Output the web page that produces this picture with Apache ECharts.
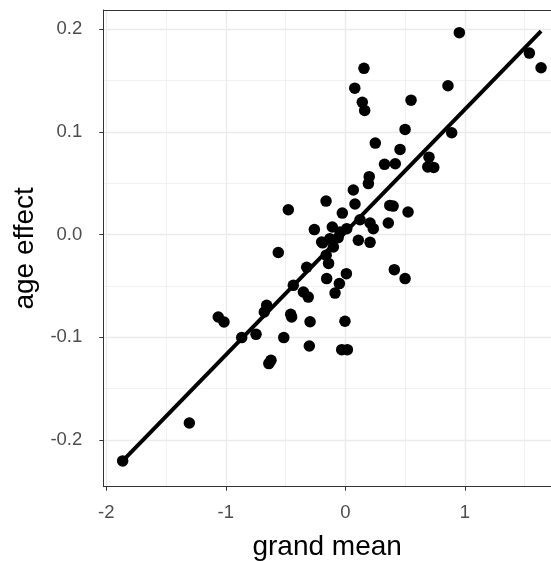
<!DOCTYPE html>
<html>
<head>
<meta charset="utf-8">
<script src="https://cdn.jsdelivr.net/npm/echarts@6/dist/echarts.min.js"></script>
<style>html,body{margin:0;padding:0;background:#fff;overflow:hidden}#c{width:551px;height:561px}</style>
</head>
<body>
<div id="c"></div>
<script>
const xTicks = [-2, -1, 0, 1];
const yTicks = [-0.2, -0.1, 0, 0.1, 0.2];
const xTitle = 'grand mean';
const yTitle = 'age effect';
const grandMean = [0.954, 1.540, 1.638, 0.156, 0.079, 0.142, 0.162, 0.859, 0.550, 0.500,
  0.890, 0.251, 0.458, 0.328, 0.418, 0.700, 0.690, 0.740, 0.200, 0.193,
  0.067, -0.161, 0.081, -0.025, 0.372, 0.400, 0.525, -0.109, 0.123, 0.207,
  0.234, 0.360, 0.109, 0.207, -0.198, -0.259, -0.477, -0.561, 0.012, -0.044,
  -0.323, -0.156, 0.009, -0.050, -0.086, -0.435, -0.351, -0.310, -0.457, -0.449,
  -0.295, -0.003, -0.301, -0.030, 0.017, -0.658, -0.678, -1.063, -1.015, -0.867,
  -0.747, -0.515, -0.622, -0.640, -1.305, -1.863, 0.410, 0.500, -0.190, -0.130,
  -0.100, -0.060, -0.160, -0.140];
const ageEffect = [0.1967, 0.1768, 0.1626, 0.162, 0.1427, 0.129, 0.121, 0.145, 0.131, 0.1025,
  0.0993, 0.0892, 0.083, 0.0685, 0.069, 0.0755, 0.066, 0.0655, 0.0565, 0.0497,
  0.0435, 0.0327, 0.0298, 0.021, 0.0285, 0.0278, 0.022, 0.0074, 0.0145, 0.0113,
  0.0058, 0.0113, -0.0055, -0.0075, -0.0072, 0.0049, 0.0243, -0.0174, 0.0058, 0.0025,
  -0.0318, -0.0428, -0.038, -0.0477, -0.0569, -0.0494, -0.0559, -0.0608, -0.0776, -0.0802,
  -0.0848, -0.0844, -0.1085, -0.112, -0.112, -0.0688, -0.0754, -0.0802, -0.0851, -0.1003,
  -0.0971, -0.1003, -0.1224, -0.1256, -0.1834, -0.2204, -0.0341, -0.0428, -0.008, -0.004,
  -0.012, -0.003, -0.020, -0.028];
const fitX = [-1.863, 1.638];
const fitY = [-0.2204, 0.1983];

const FONT = 'Liberation Sans';
const points = grandMean.map((x, i) => [x, ageEffect[i]]);
const fitLine = fitX.map((x, i) => [x, fitY[i]]);
const X_MIN = -2.025, X_MAX = 1.721, Y_MIN = -0.2455, Y_MAX = 0.2188;
const border = {show: true, onZero: false, lineStyle: {color: '#333333', width: 1}};

const chart = echarts.init(document.getElementById('c'), null, {renderer: 'canvas'});
chart.setOption({
  animation: false,
  backgroundColor: '#ffffff',
  grid: {left: 103.3, top: 10, width: 447.7, height: 476.7, show: false,
    containLabel: false, outerBoundsMode: 'none'},
  xAxis: [{
    type: 'value', position: 'bottom', min: X_MIN, max: X_MAX, splitNumber: 4,
    name: xTitle, nameLocation: 'middle', nameGap: 47,
    nameTextStyle: {fontFamily: FONT, fontSize: 28, color: '#000000'},
    axisLine: border,
    axisTick: {show: true, customValues: xTicks, length: 4, lineStyle: {color: '#333333', width: 1}},
    axisLabel: {customValues: xTicks, margin: 17, color: '#4D4D4D', fontSize: 18.5, fontFamily: FONT,
      formatter: v => String(v)},
    splitLine: {show: true, lineStyle: {color: '#EBEBEB', width: 1.4}},
    minorTick: {show: false, splitNumber: 2},
    minorSplitLine: {show: true, lineStyle: {color: '#EBEBEB', width: 0.7}}
  }, {
    type: 'value', position: 'top', min: X_MIN, max: X_MAX,
    axisLine: border, axisTick: {show: false}, axisLabel: {show: false}, splitLine: {show: false}
  }],
  yAxis: {
    type: 'value', min: Y_MIN, max: Y_MAX, splitNumber: 5,
    name: yTitle, nameLocation: 'middle', nameGap: 64, nameRotate: 90,
    nameTextStyle: {fontFamily: FONT, fontSize: 28, color: '#000000'},
    axisLine: border,
    axisTick: {show: true, customValues: yTicks, length: 4, lineStyle: {color: '#333333', width: 1}},
    axisLabel: {customValues: yTicks, margin: 21, color: '#4D4D4D', fontSize: 18.5, fontFamily: FONT,
      formatter: v => v.toFixed(1)},
    splitLine: {show: true, lineStyle: {color: '#EBEBEB', width: 1.4}},
    minorTick: {show: false, splitNumber: 2},
    minorSplitLine: {show: true, lineStyle: {color: '#EBEBEB', width: 0.7}}
  },
  series: [
    {type: 'scatter', xAxisIndex: 0, data: points, symbol: 'circle', symbolSize: 11.5,
      itemStyle: {color: '#000000', opacity: 1}, z: 3},
    {type: 'line', xAxisIndex: 0, data: fitLine, showSymbol: false, symbol: 'none',
      lineStyle: {color: '#000000', width: 4}, z: 4}
  ]
});
</script>
</body>
</html>
